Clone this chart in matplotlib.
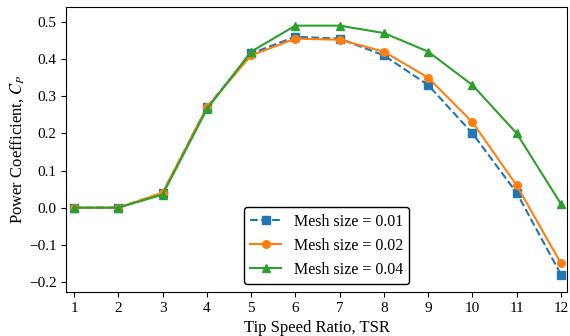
import numpy as np
import matplotlib.pyplot as plt

plt.rcParams['font.family'] = ['Liberation Serif', 'DejaVu Serif']
plt.rcParams['mathtext.fontset'] = 'stix'

tsr = [1, 2, 3, 4, 5, 6, 7, 8, 9, 10, 11, 12]
cp_001 = [0.0, 0.0, 0.04, 0.27, 0.415, 0.46, 0.455, 0.41, 0.33, 0.20, 0.04, -0.18]
cp_002 = [0.0, 0.0, 0.04, 0.27, 0.41, 0.455, 0.452, 0.42, 0.35, 0.23, 0.06, -0.15]
cp_004 = [0.0, 0.0, 0.035, 0.265, 0.42, 0.49, 0.49, 0.47, 0.42, 0.33, 0.20, 0.01]

fig = plt.figure(figsize=(5.7, 3.36), dpi=100)
ax = fig.add_axes([0.116, 0.131, 0.879, 0.848])

ax.plot(tsr, cp_001, '--s', color='tab:blue', markersize=5.5, label='Mesh size = 0.01')
ax.plot(tsr, cp_002, '-o', color='tab:orange', markersize=5.5, label='Mesh size = 0.02')
ax.plot(tsr, cp_004, '-^', color='tab:green', markersize=5.5, label='Mesh size = 0.04')

ax.set_xlim(0.82, 12.14)
ax.set_ylim(-0.227, 0.54)
ax.set_xticks(tsr)
ax.tick_params(labelsize=11)
ax.set_xlabel('Tip Speed Ratio, TSR', fontsize=12)
ax.set_ylabel('Power Coefficient, $C_P$', fontsize=12, labelpad=2)

leg = ax.legend(loc='lower center', bbox_to_anchor=(0.52, 0.0), fontsize=11.5,
                edgecolor='black', handlelength=1.9)
leg.get_frame().set_alpha(1)

fig.savefig('out.png', dpi=100)
